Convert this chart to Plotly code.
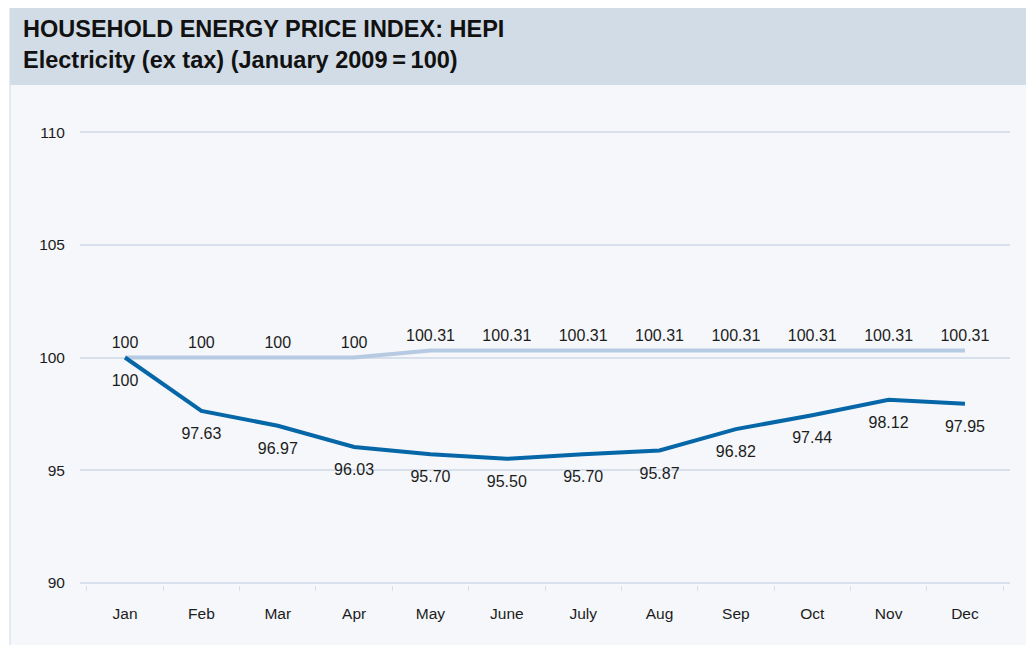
import plotly.graph_objects as go

# data
months = ["Jan", "Feb", "Mar", "Apr", "May", "June", "July", "Aug", "Sep", "Oct", "Nov", "Dec"]
hepi_flat = [100, 100, 100, 100, 100.31, 100.31, 100.31, 100.31, 100.31, 100.31, 100.31, 100.31]
hepi_elec = [100, 97.63, 96.97, 96.03, 95.70, 95.50, 95.70, 95.87, 96.82, 97.44, 98.12, 97.95]
flat_labels = ["100", "100", "100", "100", "100.31", "100.31", "100.31", "100.31",
               "100.31", "100.31", "100.31", "100.31"]
elec_labels = ["100", "97.63", "96.97", "96.03", "95.70", "95.50", "95.70", "95.87",
               "96.82", "97.44", "98.12", "97.95"]
y_ticks = [90, 95, 100, 105, 110]

FONT = "Liberation Sans, Arial, sans-serif"
TEXT = "#1c1c1c"
GRID = "#d8e0eb"
PANEL = "#f5f7fa"
HEADER = "#d1dce6"
DARK = "#0566a8"
LIGHT = "#b7cae3"

# page body has an 8px margin, so work in page pixels and shift back
OFF = 8
W, H = 1034 - OFF, 645 - OFF
L, R, T, B = 80 - OFF, 1010 - OFF, 130 - OFF, 585 - OFF


def px(xp):
    return (xp - OFF - L) / (R - L)


def py(yp):
    return (B - (yp - OFF)) / (B - T)


fig = go.Figure()

fig.add_trace(go.Scatter(
    x=months, y=hepi_flat,
    mode="lines+markers+text",
    line=dict(color=LIGHT, width=4),
    marker=dict(size=8, opacity=0),
    text=flat_labels,
    textposition="top center",
    textfont=dict(size=16, color=TEXT, family=FONT),
    showlegend=False,
    hoverinfo="skip",
))

fig.add_trace(go.Scatter(
    x=months, y=hepi_elec,
    mode="lines+markers+text",
    line=dict(color=DARK, width=4),
    marker=dict(size=24, opacity=0),
    text=elec_labels,
    textposition="bottom center",
    textfont=dict(size=16, color=TEXT, family=FONT),
    showlegend=False,
    hoverinfo="skip",
))

# panel + header band behind the chart
shapes = [
    dict(type="rect", xref="paper", yref="paper",
         x0=px(10), x1=px(1032), y0=py(660), y1=py(5),
         fillcolor=PANEL, line=dict(color="#cfd9e4", width=1), layer="below"),
    dict(type="rect", xref="paper", yref="paper",
         x0=px(10), x1=px(1032), y0=py(85), y1=py(5),
         fillcolor=HEADER, line=dict(width=0), layer="below"),
]

annotations = [
    dict(text="<b>HOUSEHOLD ENERGY PRICE INDEX: HEPI</b>", xref="paper", yref="paper",
         x=px(21), y=py(29), xanchor="left", yanchor="middle", showarrow=False,
         font=dict(size=23.5, color="#111111", family=FONT)),
    dict(text="<b>Electricity (ex tax) (January 2009\u2009=\u2009100)</b>", xref="paper", yref="paper",
         x=px(21), y=py(60), xanchor="left", yanchor="middle", showarrow=False,
         font=dict(size=23.5, color="#111111", family=FONT)),
]

fig.update_layout(
    width=W, height=H,
    margin=dict(l=L, r=W - R, t=T, b=H - B),
    paper_bgcolor="white",
    plot_bgcolor=PANEL,
    font=dict(family=FONT, size=15, color=TEXT),
    shapes=shapes,
    annotations=annotations,
    xaxis=dict(
        type="category",
        range=[-0.59, 11.59],
        tickson="boundaries",
        ticks="outside", ticklen=5, tickcolor=GRID,
        showgrid=False,
        showline=False,
        zeroline=False,
        ticklabelstandoff=17,
        tickfont=dict(size=15.5, color=TEXT),
        fixedrange=True,
    ),
    yaxis=dict(
        range=[89.9, 110.1],
        tickvals=y_ticks,
        showgrid=True, gridcolor=GRID, gridwidth=1.5,
        zeroline=False,
        showline=False,
        ticks="",
        ticklabelstandoff=14,
        tickfont=dict(size=15.5, color=TEXT),
        fixedrange=True,
    ),
)

fig.write_html("out.html")
